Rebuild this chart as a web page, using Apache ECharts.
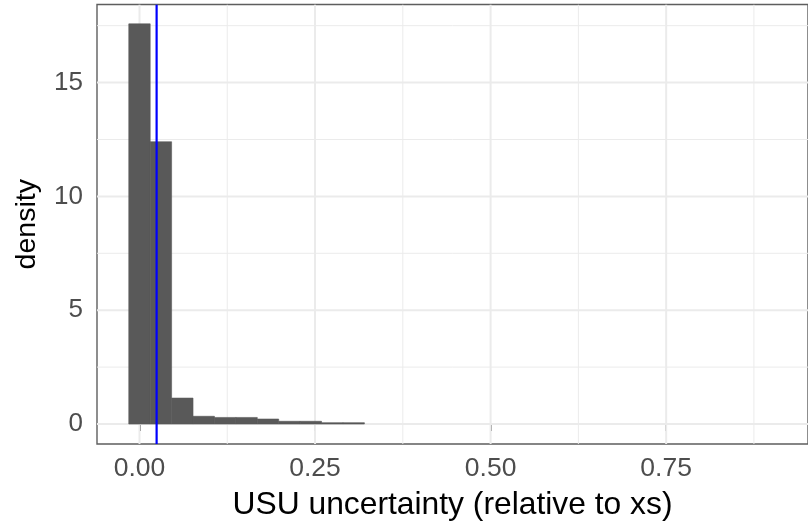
<!DOCTYPE html>
<html>
<head>
<meta charset="utf-8">
<title>USU uncertainty histogram</title>
<script src="https://cdn.jsdelivr.net/npm/echarts@6/dist/echarts.min.js"></script>
<style>
  html, body { margin: 0; padding: 0; background: #ffffff; }
  #chart { width: 808px; height: 526px; }
</style>
</head>
<body>
<div id="chart"></div>
<script>
// Histogram bins: width and density of each bin (bin i is centred on i * binWidth)
const binWidth = 0.0305;
const densities = [17.58, 12.40, 1.14, 0.34, 0.29, 0.29, 0.22, 0.12, 0.12, 0.06, 0.06];
// Mean relative uncertainty (vertical reference line)
const meanValue = 0.0244;

// Axis ticks and grid lines
const xTicks = [0, 0.25, 0.5, 0.75];
const xTickLabels = ['0.00', '0.25', '0.50', '0.75'];
const xMinor = [0.125, 0.375, 0.625, 0.875];
const yTicks = [0, 5, 10, 15];
const yTickLabels = ['0', '5', '10', '15'];
const yMinor = [2.5, 7.5, 12.5, 17.5];

const xRange = [-0.0605, 0.952];
const yRange = [-0.8775, 18.43];

const FONT = "'Liberation Sans', Arial, sans-serif";

const bins = densities.map((d, i) => [(i - 0.5) * binWidth, (i + 0.5) * binWidth, d]);

function gridLineSeries(values, horizontal, width) {
  return {
    type: 'custom',
    silent: true,
    z: 1,
    clip: true,
    data: values.map(v => [v]),
    renderItem: function (params, api) {
      const v = api.value(0);
      const cs = params.coordSys;
      let shape;
      if (horizontal) {
        const y = api.coord([xRange[0], v])[1];
        shape = { x1: cs.x, y1: y, x2: cs.x + cs.width, y2: y };
      } else {
        const x = api.coord([v, yRange[0]])[0];
        shape = { x1: x, y1: cs.y, x2: x, y2: cs.y + cs.height };
      }
      return { type: 'line', shape: shape, style: { stroke: '#ebebeb', lineWidth: width } };
    }
  };
}

const chart = echarts.init(document.getElementById('chart'), null, { renderer: 'canvas' });

chart.setOption({
  animation: false,
  backgroundColor: '#ffffff',
  grid: {
    left: 97, top: 4.5, width: 720, height: 440.5,
    show: true, borderColor: '#5e5e5e', borderWidth: 1.4, backgroundColor: '#ffffff'
  },
  xAxis: {
    type: 'value',
    min: xRange[0], max: xRange[1],
    name: 'USU uncertainty (relative to xs)',
    nameLocation: 'middle',
    nameGap: 45,
    nameTextStyle: { fontFamily: FONT, fontSize: 31.8, color: '#000000' },
    axisLine: { show: false },
    splitLine: { show: false },
    axisTick: {
      show: true, length: 7, inside: false, customValues: xTicks,
      lineStyle: { color: '#333333', width: 1.5 }
    },
    axisLabel: {
      show: true, customValues: xTicks, margin: 11,
      fontFamily: FONT, fontSize: 26.5, color: '#4d4d4d',
      formatter: v => xTickLabels[xTicks.indexOf(v)] ?? ''
    }
  },
  yAxis: {
    type: 'value',
    min: yRange[0], max: yRange[1],
    name: 'density',
    nameLocation: 'middle',
    nameGap: 55,
    nameRotate: 90,
    nameTextStyle: { fontFamily: FONT, fontSize: 28.5, color: '#000000' },
    axisLine: { show: false },
    splitLine: { show: false },
    axisTick: {
      show: true, length: 7, inside: false, customValues: yTicks,
      lineStyle: { color: '#333333', width: 1.5 }
    },
    axisLabel: {
      show: true, customValues: yTicks, margin: 14,
      fontFamily: FONT, fontSize: 26, color: '#4d4d4d',
      formatter: v => yTickLabels[yTicks.indexOf(v)] ?? ''
    }
  },
  series: [
    gridLineSeries(yMinor, true, 1),
    gridLineSeries(xMinor, false, 1),
    gridLineSeries(yTicks, true, 2),
    gridLineSeries(xTicks, false, 2),
    {
      type: 'custom',
      name: 'histogram',
      z: 3,
      clip: true,
      data: bins,
      encode: { x: [0, 1], y: 2 },
      renderItem: function (params, api) {
        const p0 = api.coord([api.value(0), 0]);
        const p1 = api.coord([api.value(1), api.value(2)]);
        return {
          type: 'rect',
          shape: { x: p0[0], y: p1[1], width: p1[0] - p0[0], height: p0[1] - p1[1] },
          style: { fill: '#595959', stroke: '#595959', lineWidth: 0.6 }
        };
      }
    },
    {
      type: 'custom',
      name: 'mean',
      z: 4,
      clip: true,
      data: [[meanValue]],
      renderItem: function (params, api) {
        const x = api.coord([api.value(0), 0])[0];
        const cs = params.coordSys;
        return {
          type: 'line',
          shape: { x1: x, y1: cs.y, x2: x, y2: cs.y + cs.height },
          style: { stroke: '#0000ff', lineWidth: 2.2 }
        };
      }
    }
  ]
});
</script>
</body>
</html>
